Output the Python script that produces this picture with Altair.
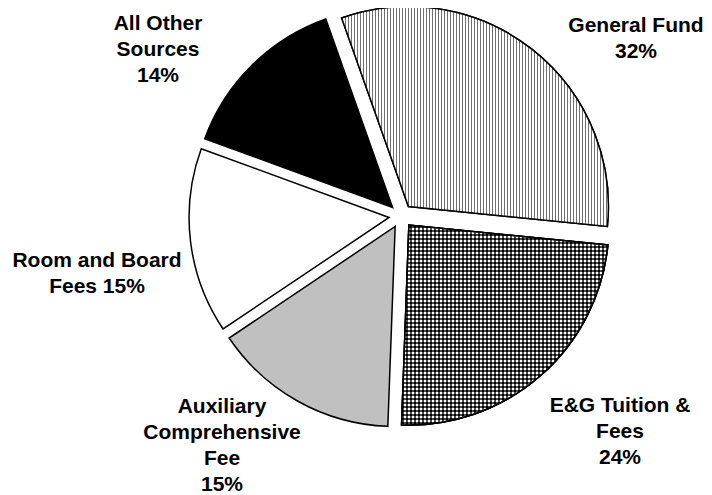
import math
import altair as alt
import pandas as pd

# ---- data ----
categories = ["General Fund", "E&G Tuition & Fees", "Auxiliary Comprehensive Fee",
              "Room and Board Fees", "All Other Sources"]
values = [32, 24, 15, 15, 14]
label_lines = ["General Fund\n32%", "E&G Tuition &\nFees\n24%",
               "Auxiliary\nComprehensive\nFee\n15%", "Room and Board\nFees 15%",
               "All Other\nSources\n14%"]

# ---- layout / style ----
W, H = 696, 486
MARGIN = 8                   # page margin (px)
CX, CY = 393, 208           # pie centre inside the view (px)
R = 200                      # radius (px)
EXPLODE = 12 / R             # explosion in radius units
A0 = math.radians(-19.5)     # start angle
fills = ["white", "white", "#c0c0c0", "white", "black"]
# label anchor (page px: centre x, first baseline y)
label_pos = [(636, 32), (620, 412), (222, 413), (97, 267), (158, 30)]

xdom = [-CX / R, (W - CX) / R]
ydom = [-(H - CY) / R, CY / R]
xscale = alt.Scale(domain=xdom, nice=False, zero=False)
yscale = alt.Scale(domain=ydom, nice=False, zero=False)

df = pd.DataFrame({"cat": categories, "value": values, "idx": range(len(values))})

base = (
    alt.Chart(df)
    .transform_window(cum="sum(value)", frame=[None, 0], sort=[alt.SortField("idx")])
    .transform_joinaggregate(total="sum(value)")
    .transform_calculate(
        t0="(datum.cum - datum.value) / datum.total",
        t1="datum.cum / datum.total",
    )
    .transform_calculate(mid=f"{A0} + PI * (datum.t0 + datum.t1)")
    .transform_calculate(
        ox=f"{EXPLODE} * sin(datum.mid)",
        oy=f"{EXPLODE} * cos(datum.mid)",
    )
)

theta_scale = alt.Scale(domain=[0, 1], range=[A0, A0 + 2 * math.pi])
enc = dict(
    x=alt.X("ox:Q", scale=xscale, axis=None),
    y=alt.Y("oy:Q", scale=yscale, axis=None),
    theta=alt.Theta("t0:Q", scale=theta_scale),
    theta2="t1:Q",
)

arc_kw = dict(radius=R, stroke="black", strokeWidth=1.5)

base_arcs = base.mark_arc(**arc_kw).encode(
    fill=alt.Fill("cat:N", scale=alt.Scale(domain=categories, range=fills), legend=None),
    **enc,
)


def slice_bbox(i):
    """Bounding box (page px) of slice i, used only to align fill patterns to pixels."""
    tot = sum(values)
    s = sum(values[:i]) / tot
    e = sum(values[:i + 1]) / tot
    a1 = A0 + 2 * math.pi * s
    a2 = A0 + 2 * math.pi * e
    mid = (a1 + a2) / 2
    cx = MARGIN + CX + R * EXPLODE * math.sin(mid)
    cy = MARGIN + CY - R * EXPLODE * math.cos(mid)
    xs, ys = [cx], [cy]
    angs = [a1, a2]
    for k in range(-4, 9):
        q = k * math.pi / 2
        if a1 < q < a2:
            angs.append(q)
    for a in angs:
        xs.append(cx + R * math.sin(a))
        ys.append(cy - R * math.cos(a))
    return min(xs), max(xs), min(ys), max(ys)


def stripes_px(lo, hi, period, on, c_on, c_off, vertical=True):
    size = hi - lo
    stops = [alt.GradientStop(offset=0, color=c_off)]
    e = math.ceil(lo)
    while e < hi:
        a = (e - lo) / size
        b = min((e + on - lo) / size, 1)
        stops += [alt.GradientStop(offset=a, color=c_off), alt.GradientStop(offset=a, color=c_on),
                  alt.GradientStop(offset=b, color=c_on), alt.GradientStop(offset=b, color=c_off)]
        e += period
    stops.append(alt.GradientStop(offset=1, color=c_off))
    if vertical:
        return alt.LinearGradient(gradient="linear", stops=stops, x1=0, x2=1, y1=0, y2=0)
    return alt.LinearGradient(gradient="linear", stops=stops, x1=0, x2=0, y1=0, y2=1)


bx0, bx1, by0, by1 = slice_bbox(0)
gf = base.transform_filter(alt.datum.idx == 0).mark_arc(
    fill=stripes_px(bx0, bx1, 3, 1, "#707070", "white"), **arc_kw
).encode(**enc)

ex0, ex1, ey0, ey1 = slice_bbox(1)
eg1 = base.transform_filter(alt.datum.idx == 1).mark_arc(
    fill=stripes_px(ex0, ex1, 4, 2, "black", "white"), **arc_kw
).encode(**enc)

eg2 = base.transform_filter(alt.datum.idx == 1).mark_arc(
    fill=stripes_px(ey0, ey1, 4, 2, "rgba(0,0,0,0.7)", "rgba(255,255,255,0.3)", vertical=False),
    **arc_kw
).encode(**enc)

lab = pd.DataFrame({
    "text": label_lines,
    "lx": [(p[0] - MARGIN - CX) / R for p in label_pos],
    "ly": [(CY - (p[1] - MARGIN)) / R for p in label_pos],
})
labels = alt.Chart(lab).mark_text(
    font="Liberation Sans", fontWeight="bold", fontSize=21, lineBreak="\n",
    lineHeight=26, align="center", baseline="alphabetic", color="black",
).encode(
    x=alt.X("lx:Q", scale=xscale, axis=None),
    y=alt.Y("ly:Q", scale=yscale, axis=None),
    text="text:N",
)

chart = (
    alt.layer(base_arcs, gf, eg1, eg2, labels)
    .properties(width=W, height=H, autosize=alt.AutoSizeParams(type="none"), padding=0)
    .configure_view(stroke=None)
)

chart.save("out.html", embed_options={"renderer": "svg", "actions": False})
